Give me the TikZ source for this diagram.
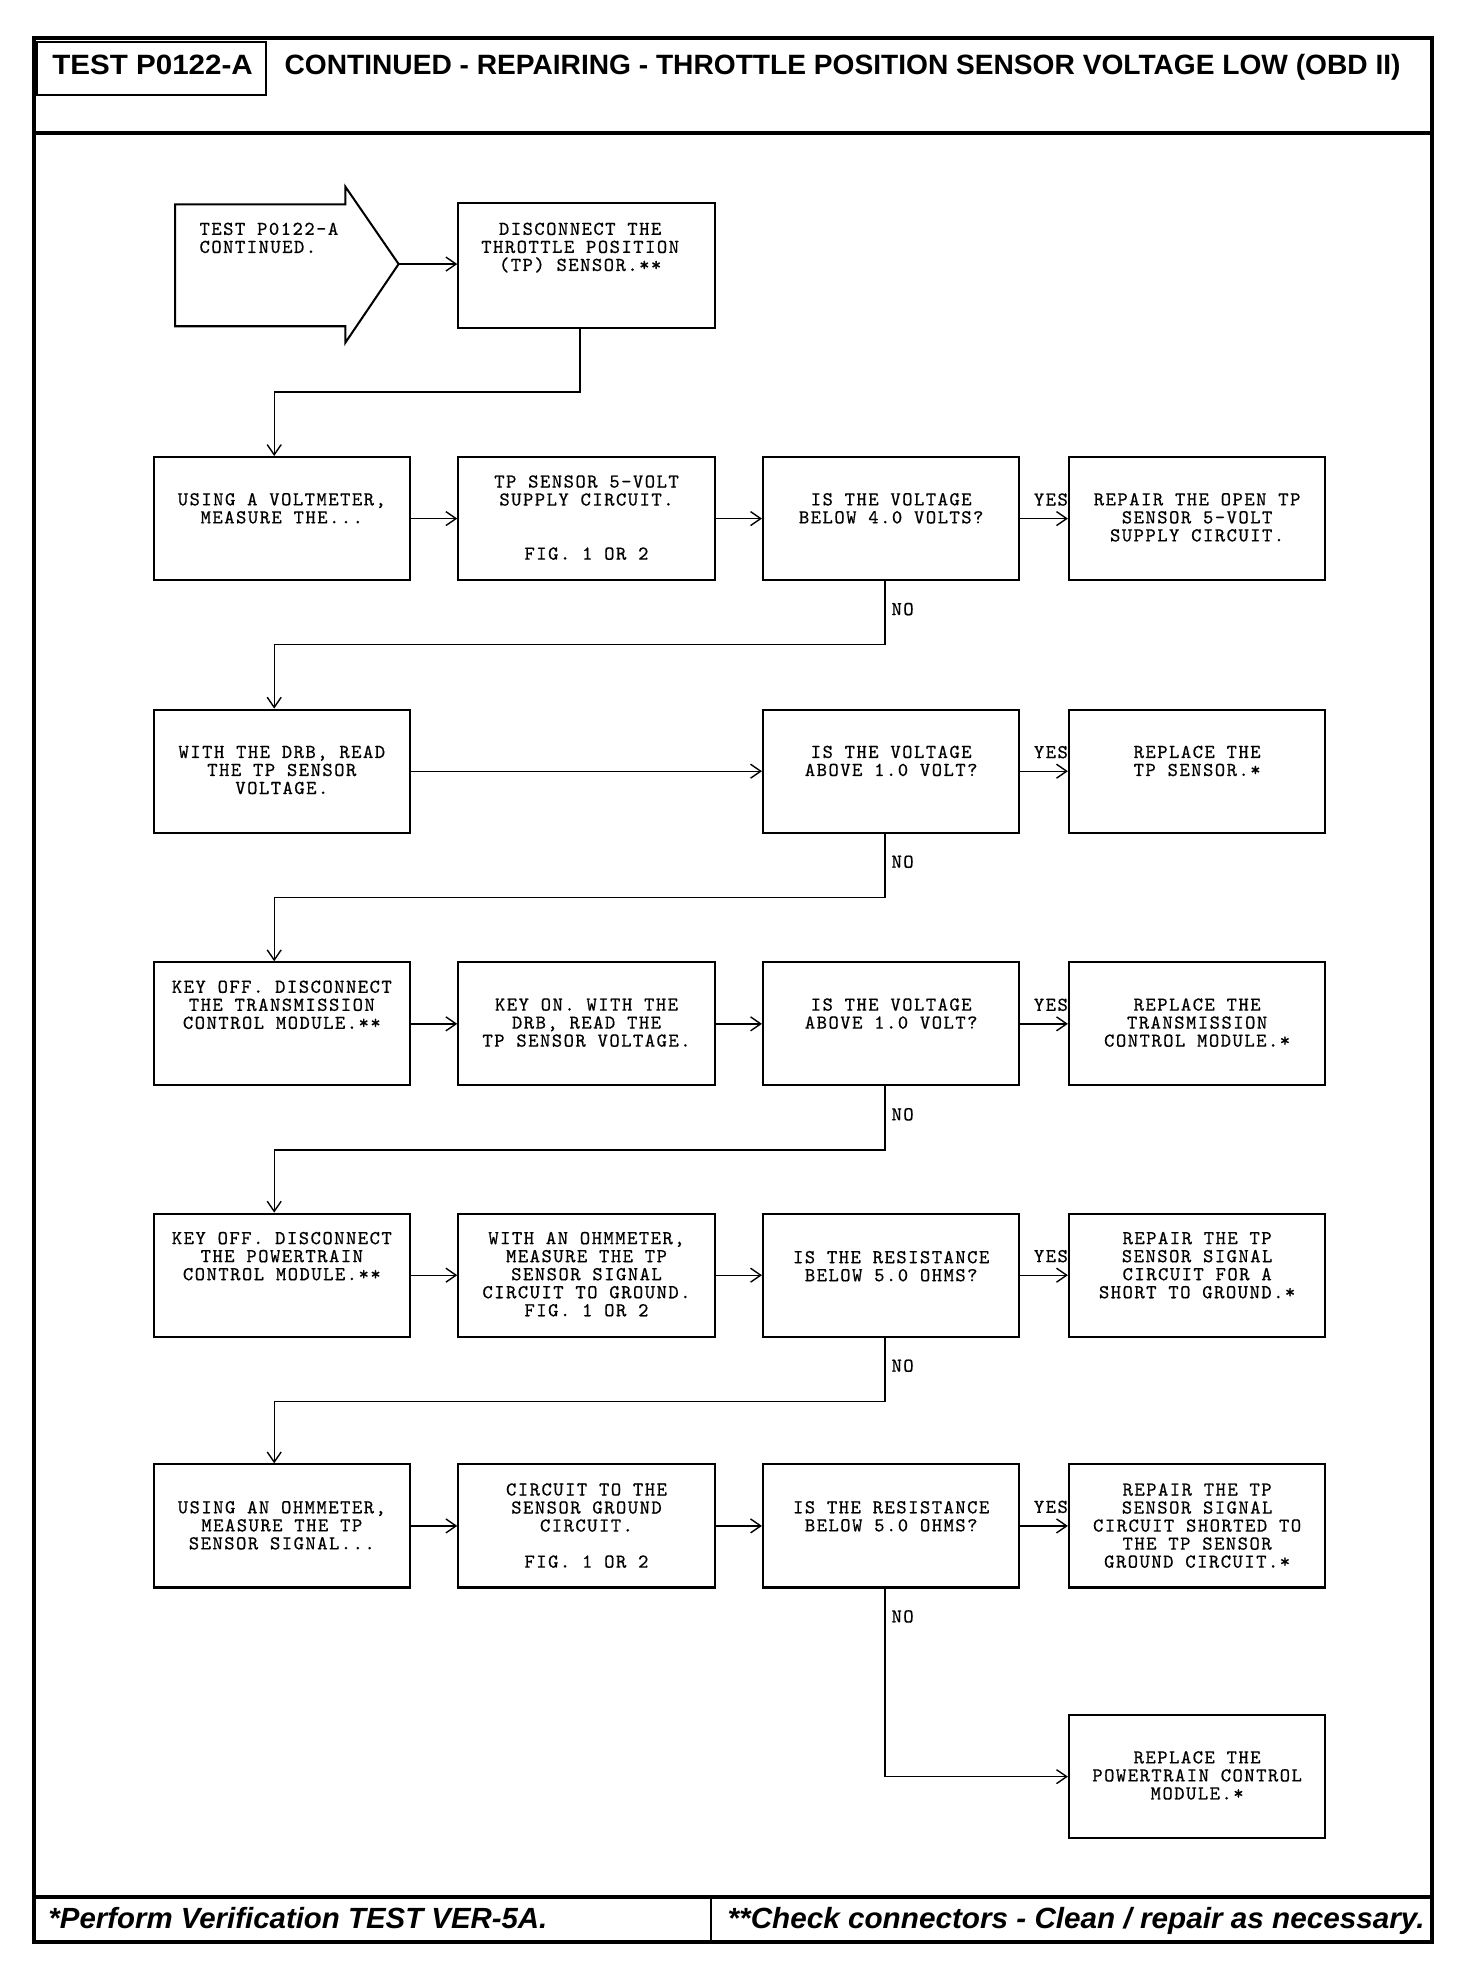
\documentclass[tikz,border=0pt]{standalone}
\usepackage{fontspec}
\usepackage{graphicx}
\usetikzlibrary{arrows.meta,calc}
\newfontfamily\monofam[Extension=.otf,LetterSpace=7.5,FakeBold=0.6]{lmmono10-regular}
\newfontfamily\sansfam{Liberation Sans}
\newcommand\boxfont{\monofam\fontsize{15.5pt}{14.2pt}\selectfont}
\newcommand\headfont{\sansfam\bfseries\fontsize{22pt}{22pt}\selectfont}
\newcommand\footfont{\sansfam\bfseries\itshape\fontsize{23pt}{23pt}\selectfont}
\begin{document}
\begin{tikzpicture}[x=1pt,y=-1pt,
 box/.style={draw, line width=1.6pt, minimum width=202pt, minimum height=97pt, inner sep=0pt},
 txt/.style={font=\boxfont, align=center, anchor=north, inner sep=0pt, yshift=4.8pt},
 lbl/.style={font=\boxfont, inner sep=0pt},
 conn/.style={line width=1.1pt, -{Straight Barb[length=8pt,width=11pt,line width=1.1pt]}},
 frame/.style={line width=3pt}]
\useasboundingbox (0,0) rectangle (1160,1566);
% frame
\draw[frame] (27,30) rectangle (1128,1530);
\draw[frame] (27,104.5) -- (1128,104.5);
\draw[frame] (27,1494) -- (1128,1494);
\draw[line width=2pt] (560,1494) -- (560,1530);
% header
\node[draw, line width=1.6pt, minimum width=181pt, minimum height=42pt, inner sep=0pt, anchor=north west] (testbox) at (28,32) {};
\node[anchor=base west, inner sep=0pt] (testlbl) at (41,59) {\resizebox{158pt}{\height}{\headfont TEST P0122-A}};
\node[anchor=base west, inner sep=0pt] (title) at (224,59) {\resizebox{879pt}{\height}{\headfont CONTINUED - REPAIRING - THROTTLE POSITION SENSOR VOLTAGE LOW (OBD II)}};
% footer
\node[anchor=base west, inner sep=0pt] (f1) at (38,1519) {\resizebox{393pt}{\height}{\footfont *Perform Verification TEST VER-5A.}};
\node[anchor=base west, inner sep=0pt] (f2) at (573,1519) {\resizebox{549pt}{\height}{\footfont **Check connectors - Clean / repair as necessary.}};
% start arrow
\draw[line width=1.6pt, line join=miter] (138,161) -- (272,161) -- (272,147) -- (314,208) -- (272,270) -- (272,257) -- (138,257) -- cycle;
\coordinate (tip) at (314,208);
\node[font=\boxfont, align=left, anchor=north west, inner sep=0pt, yshift=4.8pt] (tstart) at (157,180) {TEST P0122-A\\CONTINUED.};
% row 0
\node[box, minimum height=98pt] (D0) at (462,209) {};
\node[txt] (tD0) at (457,180) {DISCONNECT THE\\THROTTLE POSITION\\(TP) SENSOR.**};
% row 1
\node[box] (A1) at (222,408.5) {};
\node[box] (B1) at (462,408.5) {};
\node[box] (C1) at (702,408.5) {};
\node[box] (E1) at (943,408.5) {};
\node[txt] (tA1) at (222,393) {USING A VOLTMETER,\\MEASURE THE...};
\node[txt] (tB1) at (462,379) {TP SENSOR 5-VOLT\\SUPPLY CIRCUIT.\\[28.4pt]FIG. 1 OR 2};
\node[txt] (tC1) at (702,393) {IS THE VOLTAGE\\BELOW 4.0 VOLTS?};
\node[txt] (tE1) at (943,393) {REPAIR THE OPEN TP\\SENSOR 5-VOLT\\SUPPLY CIRCUIT.};
% row 2
\node[box] (A2) at (222,607.5) {};
\node[box] (C2) at (702,607.5) {};
\node[box] (E2) at (943,607.5) {};
\node[txt] (tA2) at (222,592) {WITH THE DRB, READ\\THE TP SENSOR\\VOLTAGE.};
\node[txt] (tC2) at (702,592) {IS THE VOLTAGE\\ABOVE 1.0 VOLT?};
\node[txt] (tE2) at (943,592) {REPLACE THE\\TP SENSOR.*};
% row 3
\node[box] (A3) at (222,806.5) {};
\node[box] (B3) at (462,806.5) {};
\node[box] (C3) at (702,806.5) {};
\node[box] (E3) at (943,806.5) {};
\node[txt] (tA3) at (222,777) {KEY OFF. DISCONNECT\\THE TRANSMISSION\\CONTROL MODULE.**};
\node[txt] (tB3) at (462,791) {KEY ON. WITH THE\\DRB, READ THE\\TP SENSOR VOLTAGE.};
\node[txt] (tC3) at (702,791) {IS THE VOLTAGE\\ABOVE 1.0 VOLT?};
\node[txt] (tE3) at (943,791) {REPLACE THE\\TRANSMISSION\\CONTROL MODULE.*};
% row 4
\node[box] (A4) at (222,1004.5) {};
\node[box] (B4) at (462,1004.5) {};
\node[box] (C4) at (702,1004.5) {};
\node[box] (E4) at (943,1004.5) {};
\node[txt] (tA4) at (222,975) {KEY OFF. DISCONNECT\\THE POWERTRAIN\\CONTROL MODULE.**};
\node[txt] (tB4) at (462,975) {WITH AN OHMMETER,\\MEASURE THE TP\\SENSOR SIGNAL\\CIRCUIT TO GROUND.\\FIG. 1 OR 2};
\node[txt] (tC4) at (702,990) {IS THE RESISTANCE\\BELOW 5.0 OHMS?};
\node[txt] (tE4) at (943,975) {REPAIR THE TP\\SENSOR SIGNAL\\CIRCUIT FOR A\\SHORT TO GROUND.*};
% row 5
\node[box] (A5) at (222,1202) {};
\node[box] (B5) at (462,1202) {};
\node[box] (C5) at (702,1202) {};
\node[box] (E5) at (943,1202) {};
\node[txt] (tA5) at (222,1187) {USING AN OHMMETER,\\MEASURE THE TP\\SENSOR SIGNAL...};
\node[txt] (tB5) at (462,1173) {CIRCUIT TO THE\\SENSOR GROUND\\CIRCUIT.\\[14.2pt]FIG. 1 OR 2};
\node[txt] (tC5) at (702,1187) {IS THE RESISTANCE\\BELOW 5.0 OHMS?};
\node[txt] (tE5) at (943,1173) {REPAIR THE TP\\SENSOR SIGNAL\\CIRCUIT SHORTED TO\\THE TP SENSOR\\GROUND CIRCUIT.*};
% row 6
\node[box] (E6) at (943,1399.5) {};
\node[txt] (tE6) at (943,1384) {REPLACE THE\\POWERTRAIN CONTROL\\MODULE.*};
% connectors
\draw[conn] (tip) -- (tip -| D0.west);
\draw[conn] ([xshift=-5pt]D0.south) -- ++(0,50) -| ([xshift=-6pt]A1.north);
\draw[conn] (A1) -- (B1);
\draw[conn] (B1) -- (C1);
\draw[conn] (C1) -- (E1);
\draw[conn] ([xshift=-5pt]C1.south) -- ++(0,50) -| ([xshift=-6pt]A2.north);
\draw[conn] (A2) -- (C2);
\draw[conn] (C2) -- (E2);
\draw[conn] ([xshift=-5pt]C2.south) -- ++(0,50) -| ([xshift=-6pt]A3.north);
\draw[conn] (A3) -- (B3);
\draw[conn] (B3) -- (C3);
\draw[conn] (C3) -- (E3);
\draw[conn] ([xshift=-5pt]C3.south) -- ++(0,50) -| ([xshift=-6pt]A4.north);
\draw[conn] (A4) -- (B4);
\draw[conn] (B4) -- (C4);
\draw[conn] (C4) -- (E4);
\draw[conn] ([xshift=-5pt]C4.south) -- ++(0,50) -| ([xshift=-6pt]A5.north);
\draw[conn] (A5) -- (B5);
\draw[conn] (B5) -- (C5);
\draw[conn] (C5) -- (E5);
\draw[conn] ([xshift=-5pt]C5.south) |- (E6.west);
% labels
\foreach \r in {1,2,3,4,5}{
 \node[lbl] (yes\r) at ($(C\r.east)+(24,-15)$) {YES};
 \node[lbl] (no\r) at ($(C\r.south)+(9,22)$) {NO};
}
\end{tikzpicture}
\end{document}
